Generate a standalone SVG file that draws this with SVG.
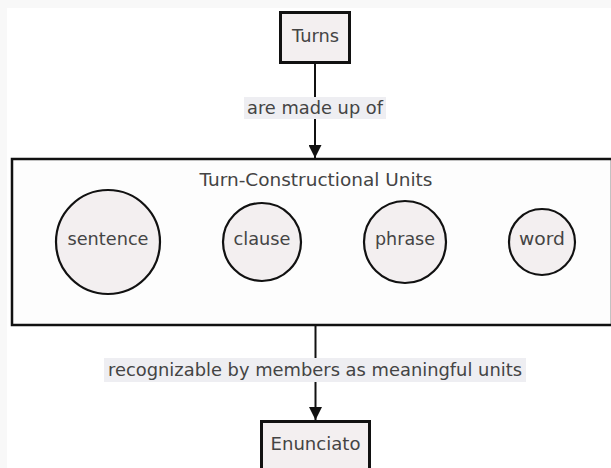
<svg xmlns="http://www.w3.org/2000/svg" width="611" height="468" viewBox="0 0 611 468">
<defs>
<style>
.t{font-family:"DejaVu Sans",sans-serif;font-size:17px;fill:#444;text-anchor:middle;dominant-baseline:central}
.box{fill:#f3eff0;stroke:#111;stroke-width:3}
.circ{fill:#f3eff0;stroke:#111;stroke-width:2.2}
.edge{stroke:#111;stroke-width:2;fill:none}
.lbl{fill:#eeeef2}
</style>
<marker id="arr" viewBox="0 0 10 10" refX="10" refY="5" markerWidth="13" markerHeight="13" markerUnits="userSpaceOnUse" orient="auto">
<path d="M0,0 L10,5 L0,10 z" fill="#111"/>
</marker>
</defs>
<rect x="0" y="0" width="611" height="468" fill="#f8f8f8"/>
<rect x="7" y="8" width="604" height="460" fill="#ffffff"/>
<g id="cluster-tcu">
<rect x="12" y="159" width="600" height="166" fill="#fdfdfd" stroke="#111" stroke-width="2.5"/>
<text class="t" x="316" y="180" textLength="233" lengthAdjust="spacingAndGlyphs">Turn-Constructional Units</text>
</g>
<g id="connectors">
<path class="edge" d="M315,64 L315,158" marker-end="url(#arr)"/>
<rect class="lbl" x="244" y="97" width="142" height="22"/>
<text class="t" x="315" y="108" textLength="136" lengthAdjust="spacingAndGlyphs">are made up of</text>
<path class="edge" d="M315.5,326 L315.5,420" marker-end="url(#arr)"/>
<rect class="lbl" x="104" y="358" width="422" height="24"/>
<text class="t" x="315" y="370" textLength="414" lengthAdjust="spacingAndGlyphs">recognizable by members as meaningful units</text>
</g>
<g id="turns">
<rect class="box" x="280.5" y="12.5" width="69" height="50"/>
<text class="t" x="315.5" y="36" textLength="47" lengthAdjust="spacingAndGlyphs">Turns</text>
</g>
<g id="sentence">
<circle class="circ" cx="108" cy="242" r="52"/>
<text class="t" x="108" y="239" textLength="81" lengthAdjust="spacingAndGlyphs">sentence</text>
</g>
<g id="clause">
<circle class="circ" cx="262" cy="242" r="39"/>
<text class="t" x="262" y="239" textLength="57" lengthAdjust="spacingAndGlyphs">clause</text>
</g>
<g id="phrase">
<circle class="circ" cx="405" cy="242" r="41"/>
<text class="t" x="405" y="239" textLength="60" lengthAdjust="spacingAndGlyphs">phrase</text>
</g>
<g id="word">
<circle class="circ" cx="542" cy="242" r="33"/>
<text class="t" x="542" y="239" textLength="46" lengthAdjust="spacingAndGlyphs">word</text>
</g>
<g id="enunciato">
<rect class="box" x="261.5" y="421.5" width="108" height="52"/>
<text class="t" x="315.5" y="444" textLength="90" lengthAdjust="spacingAndGlyphs">Enunciato</text>
</g>
</svg>
